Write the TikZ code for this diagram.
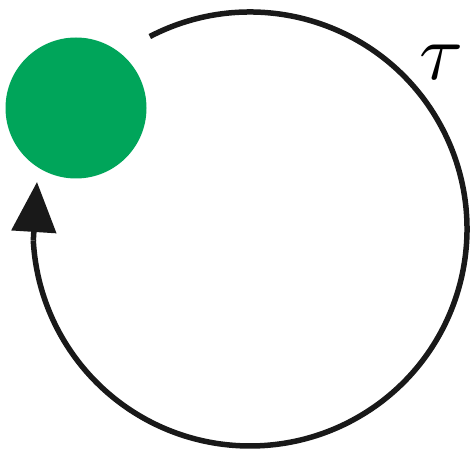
\documentclass[tikz,border=0pt]{standalone}
\usepackage{amsmath,amssymb}
\usetikzlibrary{arrows.meta,positioning,calc}
\definecolor{ballgreen}{RGB}{0,165,90}

\begin{document}
\begin{tikzpicture}[x=1pt,y=1pt,
    orbitline/.style={line width=5.5pt, black!90},
    ballnode/.style={circle, fill=ballgreen, minimum size=141pt, inner sep=0pt}]
    \useasboundingbox (0,0) rectangle (475,459);
    % orbit centre and ball
    \coordinate (orbit) at (250,230);
    \node[ballnode] (ball) at (76,351) {};
    
    % orbit, ending just under the arrow head
    \draw[orbitline] ([shift={(117.5:217)}]orbit) arc[start angle=117.5, end angle=-177, radius=217]
        coordinate (arrowbase);
    \coordinate (arrowtip) at (37,277);
    \draw[orbitline, -{Triangle[length=50pt,width=44pt]}] (arrowbase) -- (arrowtip);
    
    % period label
    \node[scale=8] (tau) at (442,397) {$\tau$};
\end{tikzpicture}
\end{document}
